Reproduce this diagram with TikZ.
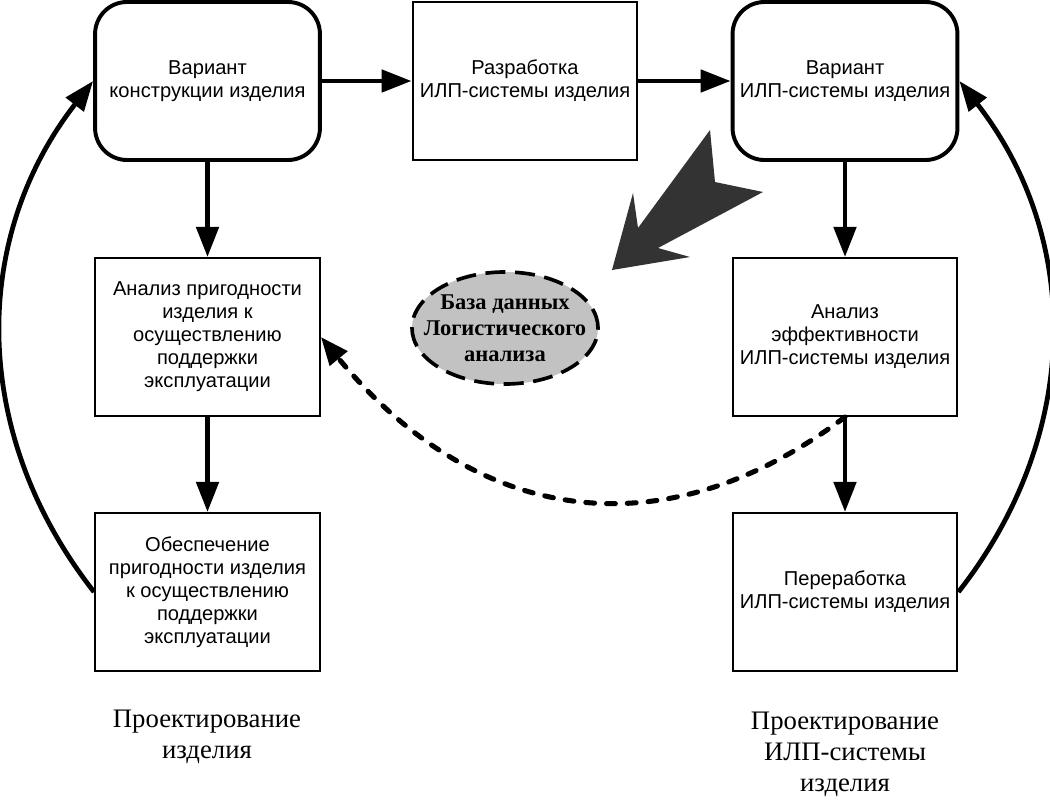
\documentclass[tikz,border=0pt]{standalone}
\usepackage{fontspec}
\setmainfont{Liberation Serif}
\setsansfont{Liberation Sans}
\usetikzlibrary{arrows.meta,shapes.geometric}
\definecolor{bigdark}{HTML}{333333}

\begin{document}
\begin{tikzpicture}[x=0.025cm, y=-0.025cm,
  box/.style={rectangle, draw=black, line width=1.4pt, align=center, minimum width=5.62cm, minimum height=3.95cm, inner sep=1pt, font=\sffamily\fontsize{14.3}{16.4}\selectfont},
  rbox/.style={box, rounded corners=0.8cm, line width=2.8pt},
  dbnode/.style={ellipse, draw=black, fill=gray!48, line width=2.6pt, dash pattern=on 0.5cm off 0.24cm, minimum width=4.65cm, minimum height=2.8cm, inner xsep=-16pt, inner ysep=-6pt, align=center, font=\bfseries\fontsize{16}{18.4}\selectfont},
  caption/.style={align=center, font=\fontsize{19}{22}\selectfont},
  flow/.style={draw=black, line width=3.4pt, -{Triangle[length=0.75cm, width=0.55cm]}},
  dashflow/.style={draw=black, line width=3.6pt, line cap=round, dash pattern=on 0.22cm off 0.3cm, -{Triangle[length=0.7cm, width=0.55cm]}}]
  \useasboundingbox (0,0) rectangle (1050,802);

  \node[rbox] (var) at (207.5,81) {Вариант\\конструкции изделия};
  \node[box] (dev) at (525,81) {Разработка\\ИЛП-системы изделия};
  \node[rbox] (ilpv) at (845,81) {Вариант\\ИЛП-системы изделия};
  \node[box] (suit) at (207.5,337) {Анализ пригодности\\изделия к\\осуществлению\\поддержки\\эксплуатации};
  \node[box] (ensure) at (207.5,592) {Обеспечение\\пригодности изделия\\к осуществлению\\поддержки\\эксплуатации};
  \node[box] (eff) at (845,337) {Анализ\\эффективности\\ИЛП-системы изделия};
  \node[box] (rework) at (845,592) {Переработка\\ИЛП-системы изделия};
  \node[dbnode] (db) at (505,328) {База данных\\Логистического\\анализа};
  \node[caption] (prod) at (207,737) {Проектирование\\изделия};
  \node[caption] (sys) at (845,754) {Проектирование\\ИЛП-системы\\изделия};

  % big arrow to the data base
  \fill[bigdark] (612,270) -- (633,193) -- (638,228) -- (710,130) -- (715,182)
    -- (763,192) -- (658,248) -- (690,257) -- cycle;

  \path[flow] (var) edge (dev);
  \path[flow] (dev) edge (ilpv);
  \path[flow] (var) edge (suit);
  \path[flow] (suit) edge (ensure);
  \path[flow] (ilpv) edge (eff);
  \path[flow] (eff) edge (rework);
  \draw[flow] (ensure.west) to[bend left=38] (var.west);
  \draw[flow] (rework.east) to[bend right=38] (ilpv.east);
  \draw[dashflow] (eff.south) .. controls (661,555) and (474,523) .. (suit.east);
\end{tikzpicture}
\end{document}
